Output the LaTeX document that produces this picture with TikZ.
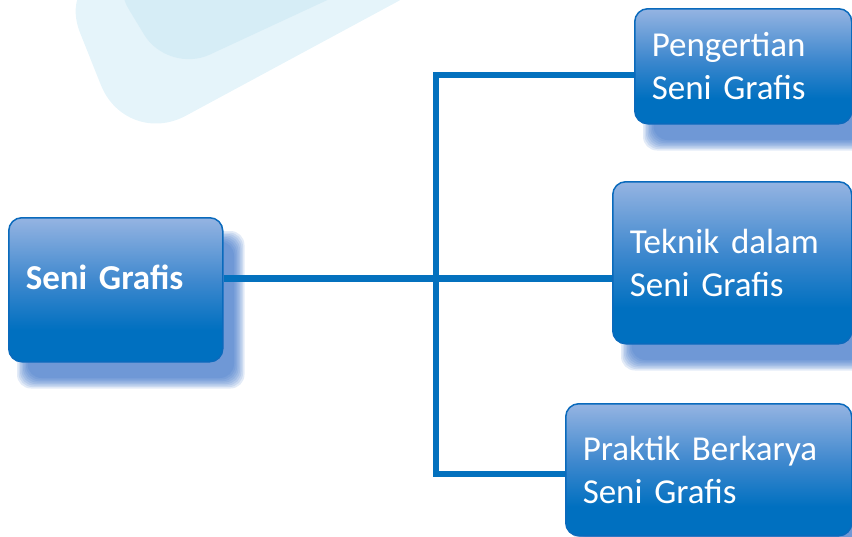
\documentclass[tikz,border=0pt]{standalone}
\usepackage{fontspec}
\setmainfont{Carlito}

\definecolor{boxdark}{RGB}{0,112,192}
\definecolor{boxmid}{RGB}{62,136,206}
\definecolor{boxlight}{RGB}{149,180,226}
\definecolor{boxedge}{RGB}{10,106,188}
\definecolor{linkblue}{RGB}{4,113,190}
\definecolor{shadowblue}{RGB}{40,101,194}
\definecolor{decoout}{RGB}{229,244,250}
\definecolor{decoin}{RGB}{214,237,246}

\pgfdeclareverticalshading{boxfill}{100bp}{color(0bp)=(boxdark); color(36bp)=(boxdark);
  color(53bp)=(boxmid); color(75bp)=(boxlight); color(100bp)=(boxlight)}

\pgfdeclarelayer{bg}
\pgfsetlayers{bg,main}

\tikzset{topic/.style={shade, shading=boxfill, draw=boxedge, line width=1.5pt,
    rounded corners=13pt, text=white, align=left, inner xsep=17pt, anchor=north west,
    font=\fontsize{35}{43}\selectfont},
  branch/.style={draw=linkblue, line width=6.5pt}}

% soft blue shadow under a box
\newcommand{\castshadow}[1]{%
  \foreach \s in {-4,...,3}
    \fill[shadowblue, fill opacity=0.13, rounded corners=14pt]
      ([shift={(15+1.5*\s,20+1.5*\s)}]#1.north west) rectangle
      ([shift={(15-1.5*\s,20-1.5*\s)}]#1.south east);}

\begin{document}
\begin{tikzpicture}[x=1pt,y=-1pt]

\useasboundingbox (0,0) rectangle (852,536);

\node[topic, minimum height=144pt, text width=180pt, text height=24pt, text depth=24pt,
  font=\bfseries\fontsize{35}{42}\selectfont] (main) at (8,217) {Seni Grafis};

\node[topic, minimum height=115pt, text width=183pt] (pen)  at (634,8)   {Pengertian\\Seni Grafis};
\node[topic, minimum height=162pt, text width=205pt] (tek)  at (612,181) {Teknik dalam\\Seni Grafis};
\node[topic, minimum height=132pt, text width=252pt] (prak) at (565,403) {Praktik Berkarya\\Seni Grafis};

\coordinate (jt) at (436,75);
\coordinate (jm) at (436,278.5);
\coordinate (jb) at (436,474);

\draw[branch] (pen.west |- jt) -| (jb) -- (prak.west |- jb);
\draw[branch] (main.east |- jm) -- (tek.west |- jm);

\begin{pgfonlayer}{bg}
  \begin{scope}
    \clip (0,0) rectangle (852,536);
    \fill[decoout, rounded corners=68pt] (55,-30) -- (126,148) -- (456,-30) -- cycle;
    \fill[decoin, rounded corners=46pt] (105,-30) -- (168,74) -- (392,-30) -- cycle;
    \foreach \b in {main,pen,tek,prak} {\castshadow{\b}}
  \end{scope}
\end{pgfonlayer}

\end{tikzpicture}
\end{document}
